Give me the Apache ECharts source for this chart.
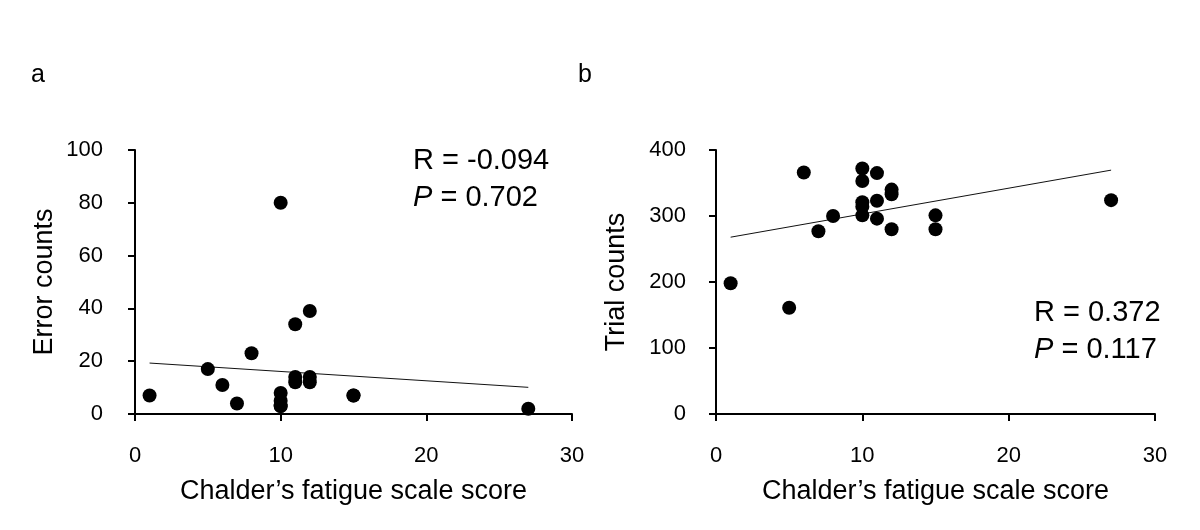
<!DOCTYPE html>
<html>
<head>
<meta charset="utf-8">
<script src="https://cdn.jsdelivr.net/npm/echarts@6/dist/echarts.min.js"></script>
<style>
  html, body { margin: 0; padding: 0; background: #fff; }
  #chart { width: 1200px; height: 530px; }
</style>
</head>
<body>
<div id="chart"></div>
<script>
// Chalder's fatigue scale score per subject (same subjects in both panels)
const fatigueScores = [1, 5, 6, 7, 8, 10, 10, 10, 10, 10, 11, 11, 11, 12, 12, 12, 15, 15, 27];
// panel a
const errorCounts = [7, 17, 11, 4, 23, 80, 8, 5, 3, 3, 34, 14, 12, 39, 14, 12, 7, 7, 2];
// panel b
const trialCounts = [198, 161, 366, 277, 300, 372, 353, 321, 314, 301, 365, 323, 296, 340, 333, 280, 301, 280, 324];

// regression line end points as drawn in the figure
const trendX = [1, 27];
const trendErrors = [19.3, 10.1];
const trendTrials = [267.9, 369.5];

const statsA = { r: '-0.094', p: '0.702' };
const statsB = { r: '0.372', p: '0.117' };

const FONT = '"Liberation Sans", Arial, sans-serif';
const chart = echarts.init(document.getElementById('chart'));

const pairs = (xs, ys) => xs.map((x, i) => [x, ys[i]]);

const axisCommon = {
  axisLine: { lineStyle: { color: '#000', width: 2 } },
  axisTick: { lineStyle: { color: '#000', width: 2 }, length: 7 },
  splitLine: { show: false },
};

const xAxisFor = (gridIndex) => ({
  ...axisCommon,
  gridIndex,
  type: 'value',
  min: 0,
  max: 30,
  interval: 10,
  name: 'Chalder\u2019s fatigue scale score',
  nameLocation: 'middle',
  nameGap: 64,
  nameTextStyle: { fontFamily: FONT, fontSize: 27, color: '#000' },
  axisLabel: { fontFamily: FONT, fontSize: 22, color: '#000', margin: 31 },
});

const statsText = (s) => ({
  type: 'text',
  style: {
    text: '{n|R = ' + s.r + '}\n{i|P}{n| = ' + s.p + '}',
    rich: {
      n: { fontFamily: FONT, fontSize: 29, color: '#000', lineHeight: 37 },
      i: { fontFamily: FONT, fontSize: 29, fontStyle: 'italic', color: '#000', lineHeight: 37 },
    },
  },
});

const scatterStyle = { color: '#000', opacity: 1 };

const option = {
  backgroundColor: '#fff',
  animation: false,
  grid: [
    { left: 135, right: 628, top: 150, bottom: 116 },
    { left: 716, right: 45, top: 150, bottom: 116 },
  ],
  xAxis: [xAxisFor(0), xAxisFor(1)],
  yAxis: [
    {
      ...axisCommon,
      gridIndex: 0,
      type: 'value',
      min: 0,
      max: 100,
      interval: 20,
      name: 'Error counts',
      nameLocation: 'middle',
      nameGap: 77,
      nameTextStyle: { fontFamily: FONT, fontSize: 27, color: '#000' },
      axisLabel: { fontFamily: FONT, fontSize: 22, color: '#000', margin: 32 },
    },
    {
      ...axisCommon,
      gridIndex: 1,
      type: 'value',
      min: 0,
      max: 400,
      interval: 100,
      name: 'Trial counts',
      nameLocation: 'middle',
      nameGap: 86,
      nameTextStyle: { fontFamily: FONT, fontSize: 27, color: '#000' },
      axisLabel: { fontFamily: FONT, fontSize: 22, color: '#000', margin: 30 },
    },
  ],
  series: [
    {
      type: 'line',
      xAxisIndex: 0,
      yAxisIndex: 0,
      data: pairs(trendX, trendErrors),
      showSymbol: false,
      lineStyle: { color: '#111', width: 1 },
      z: 1,
    },
    {
      type: 'scatter',
      xAxisIndex: 0,
      yAxisIndex: 0,
      data: pairs(fatigueScores, errorCounts),
      symbolSize: 14,
      itemStyle: scatterStyle,
      z: 2,
    },
    {
      type: 'line',
      xAxisIndex: 1,
      yAxisIndex: 1,
      data: pairs(trendX, trendTrials),
      showSymbol: false,
      lineStyle: { color: '#111', width: 1 },
      z: 1,
    },
    {
      type: 'scatter',
      xAxisIndex: 1,
      yAxisIndex: 1,
      data: pairs(fatigueScores, trialCounts),
      symbolSize: 14,
      itemStyle: scatterStyle,
      z: 2,
    },
  ],
  graphic: [
    { type: 'text', left: 31, top: 63, style: { text: 'a', fontFamily: FONT, fontSize: 25, fill: '#000' } },
    { type: 'text', left: 578, top: 63, style: { text: 'b', fontFamily: FONT, fontSize: 25, fill: '#000' } },
    { ...statsText(statsA), left: 413, top: 146 },
    { ...statsText(statsB), left: 1034, top: 298 },
  ],
};

chart.setOption(option);
</script>
</body>
</html>
